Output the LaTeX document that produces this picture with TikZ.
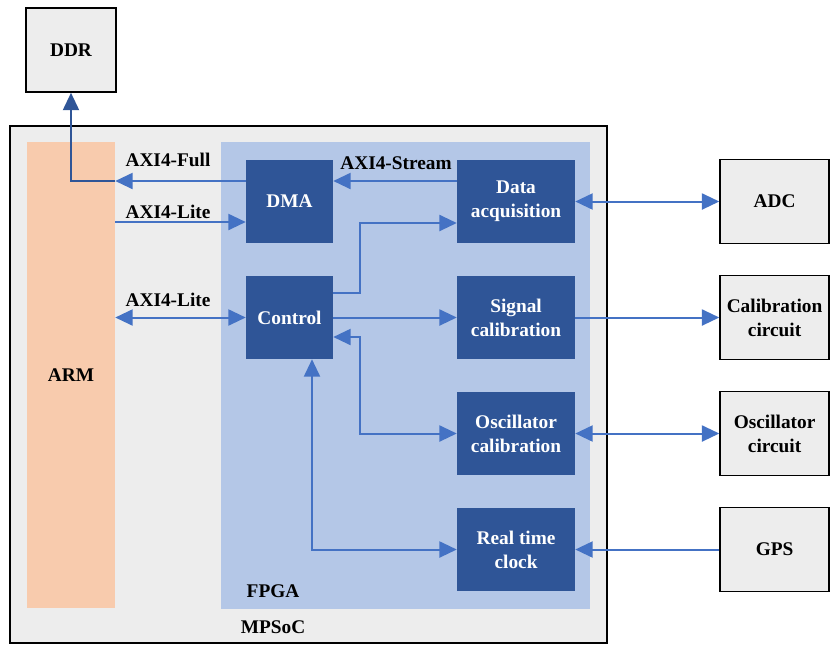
\documentclass[tikz,border=0pt]{standalone}
\usepackage{fontspec}
\setmainfont{Liberation Serif}
\usetikzlibrary{positioning, calc}
\usetikzlibrary{arrows.meta}
\definecolor{mpsocgray}{HTML}{EDEDED}
\definecolor{armpeach}{HTML}{F8CBAD}
\definecolor{fpgablue}{HTML}{B4C7E7}
\definecolor{blockblue}{HTML}{2F5597}
\definecolor{linkblue}{HTML}{4472C4}
\tikzstyle{block} = [rectangle, fill=blockblue, text=white, align=center,
    minimum width=65.25pt, minimum height=62.25pt, inner sep=0pt]
\tikzstyle{wideblock} = [block, minimum width=88.5pt]
\tikzstyle{ext} = [rectangle, draw=black, line width=1.2pt, fill=mpsocgray, align=center,
    minimum width=81.75pt, minimum height=63pt, inner sep=0pt]
\tikzstyle{armbox} = [rectangle, fill=armpeach, minimum width=66pt, minimum height=349.5pt, inner sep=0pt]
\tikzstyle{tag} = [inner sep=1pt]
\tikzstyle{line} = [draw=linkblue, line width=1.5pt, -{Triangle[length=13pt, width=12pt]}]
\tikzstyle{dline} = [line, {Triangle[length=13pt, width=12pt]}-{Triangle[length=13pt, width=12pt]}]
\tikzstyle{ddrline} = [line, draw=blockblue]
\begin{document}
\begin{tikzpicture}[x=0.75pt, y=-0.75pt, node distance=87pt, font=\fontsize{14.5}{18}\selectfont\bfseries]
  \useasboundingbox (0,0) rectangle (830,644);
  % Place regions
  \draw [line width=1pt, fill=mpsocgray] (10,126) rectangle (607,643);
  \fill [fpgablue] (221,142) rectangle (590,609);
  \node [armbox] (arm) at (71,375) {ARM};
  \node [tag] (fpga) at (273,591) {FPGA};
  \node [tag] (mpsoc) at (273,627) {MPSoC};
  % Place nodes
  \node [ext, minimum width=67.5pt] (ddr) at (71,50) {DDR};
  \node [block] (dma) at (289.5,201.5) {DMA};
  \node [block, below of=dma] (ctrl) {Control};
  \node [wideblock, right of=dma, node distance=169.9pt] (dacq) {Data\\acquisition};
  \node [wideblock, below of=dacq] (sigcal) {Signal\\calibration};
  \node [wideblock, below of=sigcal] (osccal) {Oscillator\\calibration};
  \node [wideblock, below of=osccal] (rtc) {Real time\\clock};
  \node [ext, right of=dacq, node distance=193.9pt] (adc) {ADC};
  \node [ext, below of=adc] (calcirc) {Calibration\\circuit};
  \node [ext, below of=calcirc] (osccirc) {Oscillator\\circuit};
  \node [ext, below of=osccirc] (gps) {GPS};
  % Bus labels
  \node [tag] (fulltag) at (168,160) {AXI4-Full};
  \node [tag] (litetag) at (168,212) {AXI4-Lite};
  \node [tag] (ctrltag) at (168,300) {AXI4-Lite};
  \node [tag] (streamtag) at (396,163) {AXI4-Stream};
  % Draw edges
  \coordinate (dmafull) at ($(dma.west)+(0,-20.5)$);
  \coordinate (dmalite) at ($(dma.west)+(0,20.5)$);
  \path [line] (dmafull) -- (dmafull -| arm.east);
  \path [ddrline] (dmafull -| arm.east) -- (dmafull -| ddr.south) -- (ddr.south);
  \path [line] (dmalite -| arm.east) -- (dmalite);
  \path [dline] (arm.east |- ctrl.west) -- (ctrl.west);
  \coordinate (dacqout) at ($(dacq.west)+(0,-20.5)$);
  \path [line] (dacqout) -- (dacqout -| dma.east);
  \coordinate (ctrlup) at ($(ctrl.east)+(0,-24.5)$);
  \coordinate (dacqin) at ($(dacq.west)+(0,21.5)$);
  \path [line] (ctrlup) -- ++(27,0) |- (dacqin);
  \path [line] (ctrl.east) -- (sigcal.west);
  \coordinate (ctrlback) at ($(ctrl.east)+(0,19.5)$);
  \path [dline] (osccal.west) -| ($(ctrlback)+(27,0)$) -- (ctrlback);
  \coordinate (ctrlbot) at ($(ctrl.south)+(22.5,0)$);
  \path [dline] (rtc.west) -| (ctrlbot);
  \path [dline] (dacq.east) -- (dacq.east -| adc.west);
  \path [line] (sigcal.east) -- (sigcal.east -| calcirc.west);
  \path [dline] (osccal.east) -- (osccal.east -| osccirc.west);
  \path [line] (gps.west) -- (gps.west -| rtc.east);
\end{tikzpicture}
\end{document}
